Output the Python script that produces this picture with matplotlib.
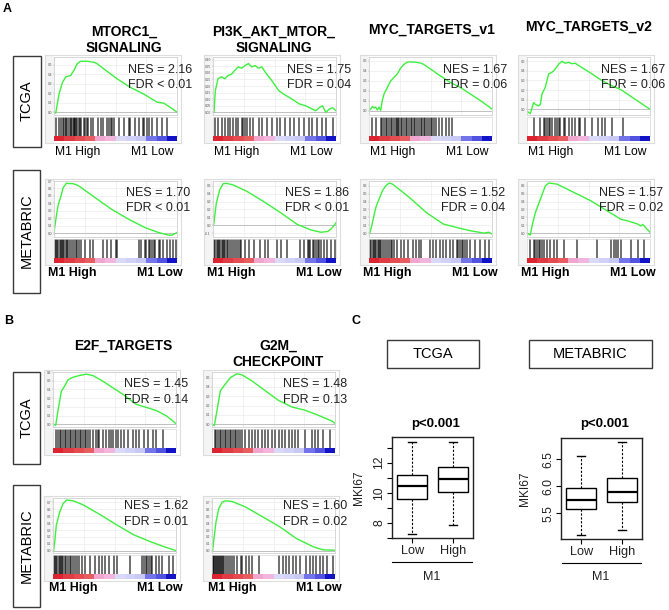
import matplotlib
matplotlib.use('Agg')
import matplotlib.pyplot as plt
from matplotlib.patches import Rectangle
from matplotlib.lines import Line2D

plt.rcParams['font.family'] = ['Liberation Sans', 'DejaVu Sans']

W, H = 669, 610

# ---------------- Panel A, TCGA row ----------------
MTORC1_TCGA_X = [0, 1.4, 4.1, 6.8, 9.5, 13.5, 16.2, 18.9, 21.6, 27, 32.4, 35, 40.5, 51.4, 62.2, 73, 83.8, 89.2, 94.6, 100]
MTORC1_TCGA_ES = [0, -0.01, 0.19, 0.31, 0.37, 0.385, 0.44, 0.51, 0.535, 0.535, 0.525, 0.51, 0.455, 0.35, 0.26, 0.19, 0.105, 0.095, 0.05, 0.0]
MTORC1_TCGA_HITS = [2, 4, 5.5, 7, 8, 9.5, 10, 11.5, 13, 14, 15, 16, 16.5, 17, 18, 19, 20, 21, 22, 24, 25, 27, 28, 30, 32,
                    36, 38, 40, 43, 45, 46, 47, 49, 53, 57, 61, 62, 66, 69, 72, 73, 76, 77, 80, 84, 88, 92]

PI3K_TCGA_X = [0.8, 1.9, 4.1, 6.8, 9.6, 12.3, 15.1, 17.8, 20.5, 23.3, 26, 28.8, 31.5, 34.2, 37, 39.7, 42.5, 47.9, 53.4,
               58.9, 64.4, 69.9, 75.3, 80.8, 83.6, 86.3, 89, 91.8, 94.5, 97.3, 100]
PI3K_TCGA_ES = [0, 0.165, 0.255, 0.27, 0.255, 0.28, 0.29, 0.32, 0.345, 0.335, 0.355, 0.37, 0.345, 0.355, 0.335, 0.345,
                0.305, 0.24, 0.165, 0.13, 0.10, 0.065, 0.05, 0.025, 0.012, 0.035, 0.05, 0.0, 0.025, 0.035, 0.012]
PI3K_TCGA_HITS = [1.4, 4, 7, 9.6, 11.8, 13.7, 16.4, 19, 20.5, 23.3, 24.7, 26, 27.4, 30, 32.9, 37, 39.7, 43.8, 47.9, 52,
                  54.8, 58.9, 63, 65.8, 69.9, 74, 78, 80.8, 84.9, 89, 91.8, 97.3]

MYC1_TCGA_X = [0, 1.4, 2.7, 4.1, 5.4, 6.8, 8.1, 9.5, 10.8, 12.2, 14.9, 17.6, 20.3, 23, 25.7, 28.4, 31.1, 36.5, 41.9,
               44.6, 50, 58.1, 66.2, 74.3, 82.4, 90.5, 100]
MYC1_TCGA_ES = [0.005, 0.02, 0.045, 0.03, 0.04, 0.01, 0.04, 0.005, 0.105, 0.17, 0.235, 0.30, 0.335, 0.37, 0.43, 0.465,
                0.49, 0.49, 0.48, 0.465, 0.42, 0.35, 0.285, 0.235, 0.17, 0.105, 0.02]
MYC1_TCGA_HITS = [2.7, 5.4, 9.5, 10.8, 12.2, 13.5, 14.9, 16.2, 17.6, 18.9, 20.3, 21.6, 23, 23.8, 24.6, 25.7, 27, 28.4,
                  29.7, 31.1, 32.4, 33.8, 35.1, 36.5, 37.8, 39.2, 40.5, 41.9, 43.2, 44.6, 45.9, 47.3, 48.6, 50, 51.4,
                  52.7, 54.1, 56.8, 59.5, 62.2, 64.9, 67.6]

MYC2_TCGA_X = [0, 2.7, 5.4, 6.8, 9.5, 10.8, 12.2, 14.9, 17.6, 20.3, 23, 25.7, 28.4, 31.1, 33.8, 36.5, 39.2, 44.6, 52.7,
               60.8, 68.9, 77, 79.7, 87.8, 95.9, 100]
MYC2_TCGA_ES = [-0.02, -0.045, 0.07, 0.05, 0.035, 0.05, 0.16, 0.23, 0.37, 0.385, 0.42, 0.47, 0.50, 0.48, 0.49, 0.475,
                0.48, 0.435, 0.37, 0.30, 0.245, 0.20, 0.175, 0.105, 0.035, 0.0]
MYC2_TCGA_HITS = [5.4, 10.8, 13.5, 14.9, 16.2, 17.6, 18.9, 20.3, 23, 24.3, 25.7, 27, 29.7, 31.1, 33.8, 36.5, 39.2, 41.9,
                  43.2, 47.3, 52.7, 58.1, 60.8, 63.5, 68.9, 78.4]

# ---------------- Panel A, METABRIC row ----------------
MTORC1_MB_X = [0, 1.9, 3.3, 6, 7.4, 10.1, 12.8, 15.5, 19.6, 33.2, 46.9, 60.5, 74.1, 85, 93.2, 95.9, 100]
MTORC1_MB_ES = [0.01, 0.23, 0.37, 0.52, 0.61, 0.67, 0.665, 0.665, 0.64, 0.48, 0.32, 0.19, 0.075, 0.01, -0.025, -0.025, 0.01]
MTORC1_MB_HITS = [0.5, 1.5, 2.5, 3.5, 4.5, 5.5, 6.5, 7.5, 8.5, 9.5, 10.5, 11.5, 13, 14.5, 16, 17.5, 19, 20.5, 22, 25, 29,
                  32, 40, 43, 46, 50, 51, 69, 71, 74, 75, 77, 78, 80, 81, 82, 85, 86, 89, 92, 94, 97, 99]

PI3K_MB_X = [0.5, 2.7, 5.5, 8.2, 11, 16.4, 27.4, 41.1, 54.8, 68.5, 79.5, 87.7, 93.2, 95.9, 98.6, 100]
PI3K_MB_ES = [0, 0.28, 0.45, 0.525, 0.53, 0.51, 0.43, 0.30, 0.16, 0.01, -0.06, -0.09, -0.08, -0.05, 0.0, 0.03]
PI3K_MB_HITS = [1, 2, 3, 4, 5, 6, 7, 8, 9, 10, 11, 12.5, 14, 15.5, 17, 18.5, 20, 22, 23, 26, 29, 33, 38, 42, 45, 52, 55,
                60, 71, 74, 77, 78, 79, 81, 82, 84, 85, 86, 88, 90, 93, 96, 99]

MYC1_MB_X = [0.5, 2.2, 3.3, 5.5, 6.8, 8.2, 11, 13.7, 16.4, 19.2, 32.9, 46.6, 60.3, 74, 82.2, 87.7, 93.2, 97.3, 100]
MYC1_MB_ES = [-0.01, 0.09, 0.17, 0.32, 0.38, 0.43, 0.54, 0.60, 0.635, 0.62, 0.45, 0.26, 0.115, 0.06, 0.03, 0.015, 0.0,
              0.01, -0.01]
MYC1_MB_HITS = [1, 2, 3, 4, 5, 6, 7, 8, 9, 10, 11.5, 13, 14.5, 16, 17.5, 19, 20.5, 23, 26, 28.8, 31.5, 35.6, 38.4, 41,
                42.5, 49.3, 52, 54.8, 57.5, 60.3, 63, 65.8, 68.5, 71.2, 72.6, 74, 75.3, 76.7, 78, 79.5, 82.2, 86.3,
                90.4, 94.5, 97.3]

MYC2_MB_X = [0, 2.7, 4.1, 6.8, 9.5, 12.3, 15, 17.7, 24.5, 38.1, 51.8, 65.4, 76.3, 81.7, 89.9, 92.6, 94, 100]
MYC2_MB_ES = [0, -0.025, 0.09, 0.26, 0.37, 0.49, 0.60, 0.635, 0.62, 0.515, 0.41, 0.28, 0.175, 0.155, 0.115, 0.09, 0.11,
              0.01]
MYC2_MB_HITS = [2.7, 5.4, 6.8, 8.2, 9.5, 10.9, 12.3, 13.6, 16.3, 19.1, 21.8, 24.5, 30, 40.9, 57.2, 68.1, 70.8, 72.2,
                73.6, 76.3, 84.5, 89.9, 95.4]

# ---------------- Panel B ----------------
E2F_TCGA_X = [0.5, 2.2, 4.1, 6.8, 9.5, 12.2, 16.2, 21.6, 27, 32.4, 40.5, 48.6, 56.8, 67.6, 75.7, 83.8, 91.9, 100]
E2F_TCGA_ES = [0, -0.01, 0.16, 0.38, 0.44, 0.51, 0.54, 0.56, 0.575, 0.56, 0.495, 0.42, 0.345, 0.23, 0.195, 0.16, 0.10,
               0.01]
E2F_TCGA_HITS = [2.7, 4.1, 5.4, 6.8, 8.1, 9.5, 10.8, 12.2, 13.5, 14.9, 16.2, 17.6, 18.9, 20.3, 21.6, 23, 24.3, 25.7, 27,
                 28.4, 29.7, 32.4, 35.1, 36.5, 37.8, 40.5, 43.2, 45.9, 47.3, 48.6, 51.4, 52.7, 55.4, 58.1, 60.8, 64.9,
                 67.6, 70.3, 74.3, 77, 81.1, 83.8, 89.2]

G2M_TCGA_X = [0, 1.9, 4.1, 6.8, 10.8, 14.9, 20.3, 24.3, 32.4, 43.2, 54.1, 64.9, 75.7, 86.5, 94.6, 97.3, 100]
G2M_TCGA_ES = [0, -0.015, 0.15, 0.36, 0.43, 0.50, 0.54, 0.53, 0.465, 0.36, 0.255, 0.185, 0.15, 0.095, 0.05, 0.035, 0.01]
G2M_TCGA_HITS = [2.2, 3.5, 4.9, 6.2, 7.6, 8.9, 10.3, 11.6, 13, 14.3, 15.7, 17, 18.4, 19.7, 21.1, 23, 24.3, 27, 29.7,
                 32.4, 35.1, 37.8, 40.5, 43.2, 45.9, 48.6, 51.4, 54.1, 56.8, 59.5, 62.2, 64.9, 67.6, 70.3, 75.7, 81.1,
                 83.8, 86.5, 90.5, 95.9]

E2F_MB_X = [0.5, 1.4, 2.7, 5.5, 8.2, 11, 16.4, 24.7, 38.4, 52.1, 65.8, 79.5, 90.4, 100]
E2F_MB_ES = [0.0, 0.13, 0.37, 0.56, 0.68, 0.73, 0.72, 0.66, 0.52, 0.37, 0.23, 0.13, 0.06, 0.005]
E2F_MB_HITS = [0.5, 1.5, 2.5, 3.5, 4.5, 5.5, 6.5, 7.5, 8.5, 9.5, 10.5, 12, 13.5, 15, 16.5, 18, 19.5, 21, 23.3, 26, 30.1,
               34.2, 37, 39.7, 42.5, 45.2, 49.3, 52.1, 63, 72.6, 74, 75.3, 76.7, 78.1, 79.5, 80.8, 83.6, 86.3, 89,
               94.5, 97.3]

G2M_MB_X = [0.5, 1.6, 3.3, 5.5, 8.2, 11, 16.4, 27.4, 41.1, 54.8, 68.5, 82.2, 90.4, 100]
G2M_MB_ES = [0, 0.18, 0.42, 0.61, 0.70, 0.72, 0.71, 0.63, 0.49, 0.35, 0.18, 0.06, 0.015, 0.01]
G2M_MB_HITS = [0.5, 1.2, 2, 2.7, 3.4, 4.1, 4.8, 5.5, 6.2, 7, 8, 9, 10, 11.5, 13, 14.5, 16, 17.8, 20.5, 23.3, 24.7, 27.4,
               30.1, 32.9, 38.4, 54.8, 57.5, 60.3, 63, 65.8, 68.5, 71.2, 76.7, 79.5, 82.2, 84.9, 87.7, 90.4, 93.2, 98.6]

NES_A_TCGA = ['2.16', '1.75', '1.67', '1.67']
FDR_A_TCGA = ['< 0.01', '= 0.04', '= 0.06', '= 0.06']
NES_A_MB = ['1.70', '1.86', '1.52', '1.57']
FDR_A_MB = ['< 0.01', '< 0.01', '= 0.04', '= 0.02']
NES_B_TCGA = ['1.45', '1.48']
FDR_B_TCGA = ['= 0.14', '= 0.13']
NES_B_MB = ['1.62', '1.60']
FDR_B_MB = ['= 0.01', '= 0.02']

TITLES_A = ['MTORC1_\nSIGNALING', 'PI3K_AKT_MTOR_\nSIGNALING', 'MYC_TARGETS_v1', 'MYC_TARGETS_v2']
TITLES_B = ['E2F_TARGETS', 'G2M_\nCHECKPOINT']

TICKS_05 = [0.0, 0.1, 0.2, 0.3, 0.4, 0.5]
TICKS_06 = [0.0, 0.1, 0.2, 0.3, 0.4, 0.5, 0.6]
TICKS_07 = [0.0, 0.1, 0.2, 0.3, 0.4, 0.5, 0.6, 0.7]
TICKS_PI3K_TCGA = [0.0, 0.05, 0.10, 0.15, 0.20, 0.25, 0.30, 0.35, 0.40]
TICKS_PI3K_MB = [-0.1, 0.0, 0.1, 0.2, 0.3, 0.4, 0.5]

# ranked-list colour bar
RANK_COLORS = ['#dc2430', '#e03a42', '#e54c52', '#e85e60', '#f0a6cf', '#f2b6de',
               '#dadaf8', '#d2d2f8', '#c8c8f4', '#7474ea', '#5252e0', '#1212c6']

# ---------------- Panel C (MKI67 box stats: whislo, q1, med, q3, whishi) ----------------
GROUPS = ['Low', 'High']
TCGA_LOW = [7.27, 9.58, 10.42, 11.2, 13.35]
TCGA_HIGH = [7.87, 10.05, 10.93, 11.71, 13.35]
MB_LOW = [5.09, 5.58, 5.745, 5.96, 6.56]
MB_HIGH = [5.19, 5.71, 5.90, 6.16, 6.83]

fig = plt.figure(figsize=(W / 100, H / 100), dpi=100)


def box(x, y, w, h):
    return [x / W, 1 - (y + h) / H, w / W, h / H]


def ftext(x, y, s, **kw):
    fig.text(x / W, 1 - y / H, s, **kw)


def frame(x, y, w, h, ec='#3a3a3a', lw=1.0):
    fig.add_artist(Rectangle((x / W, 1 - (y + h) / H), w / W, h / H, transform=fig.transFigure,
                             fill=False, ec=ec, lw=lw))


def hline(x1, x2, y, lw=0.8):
    fig.add_artist(Line2D([x1 / W, x2 / W], [1 - y / H] * 2, transform=fig.transFigure, color='k', lw=lw))


def gsea(x0, y0, w, h_enr, xs, es, hits, ylim, ticks, fmt, nes, fdr, txt_dy=(12, 27), txt_dx=14):
    h_bar, h_cb = 19, 5
    # light outer frame of the GSEA image
    fa = fig.add_axes(box(x0 - 9, y0 - 2, w + 13, h_enr + h_bar + h_cb + 6))
    fa.set_xticks([])
    fa.set_yticks([])
    for s in fa.spines.values():
        s.set_color('#dddddd')
        s.set_linewidth(0.8)
    fa.axvspan(0, 9 / (w + 13), color='#f4f4f4', lw=0)
    fa.set_xlim(0, 1)

    ax = fig.add_axes(box(x0, y0, w, h_enr))
    ax.grid(color='#ececec', lw=0.5)
    ax.axhline(0, color='#b8b8b8', lw=0.6)
    ax.plot(xs, es, color='#3df03d', lw=1.0)
    ax.set_xlim(0, 100)
    ax.set_ylim(*ylim)
    ax.set_xticks([25, 50, 75])
    ax.tick_params(axis='x', length=0, labelbottom=False)
    ax.set_yticks(ticks)
    ax.set_yticklabels([fmt % t for t in ticks], fontsize=2.3, color='#555555')
    ax.tick_params(axis='y', length=1, width=0.3, pad=0.5, color='#999999')
    for s in ax.spines.values():
        s.set_color('#d0d0d0')
        s.set_linewidth(0.6)

    ab = fig.add_axes(box(x0, y0 + h_enr + 2, w, h_bar))
    ab.vlines(hits, 0, 1, color='k', lw=1.1, alpha=0.72)
    ab.set_xlim(0, 100)
    ab.set_ylim(0, 1)
    ab.set_xticks([])
    ab.set_yticks([])
    for s in ab.spines.values():
        s.set_color('#d8d8d8')
        s.set_linewidth(0.5)

    ac = fig.add_axes(box(x0, y0 + h_enr + 2 + h_bar, w, h_cb))
    n = len(RANK_COLORS)
    ac.barh(0, [1] * n, left=list(range(n)), color=RANK_COLORS, height=1, lw=0)
    ac.set_xlim(0, n)
    ac.set_ylim(-0.5, 0.5)
    ac.axis('off')

    ftext(x0 + w + txt_dx, y0 + txt_dy[0], 'NES = ' + nes, ha='right', va='center', fontsize=9, color='#222222')
    ftext(x0 + w + txt_dx, y0 + txt_dy[1], 'FDR ' + fdr, ha='right', va='center', fontsize=9, color='#222222')


# ---------- Panel A ----------
ftext(3, 9, 'A', fontsize=9, fontweight='bold', va='center')
A_X0 = [54, 213, 369, 527]
A_W = 123
title_pos = [(124, 40), (274, 40), (432, 30), (588, 27)]
for t, (tx, ty) in zip(TITLES_A, title_pos):
    ftext(tx, ty, t, ha='center', va='center', fontsize=10, fontweight='bold', linespacing=1.15)

tcga_a = [(MTORC1_TCGA_X, MTORC1_TCGA_ES, MTORC1_TCGA_HITS, (-0.03, 0.58), TICKS_05, '%.1f'),
          (PI3K_TCGA_X, PI3K_TCGA_ES, PI3K_TCGA_HITS, (-0.02, 0.42), TICKS_PI3K_TCGA, '%.2f'),
          (MYC1_TCGA_X, MYC1_TCGA_ES, MYC1_TCGA_HITS, (-0.04, 0.54), TICKS_05, '%.1f'),
          (MYC2_TCGA_X, MYC2_TCGA_ES, MYC2_TCGA_HITS, (-0.06, 0.545), TICKS_05, '%.1f')]
for i, (xs, es, hits, yl, tk, fmt) in enumerate(tcga_a):
    gsea(A_X0[i], 57, A_W, 58, xs, es, hits, yl, tk, fmt, NES_A_TCGA[i], FDR_A_TCGA[i], txt_dy=(13, 28), txt_dx=15)
    ftext(A_X0[i] + 1, 152, 'M1 High', ha='left', va='center', fontsize=8.7)
    ftext(A_X0[i] + A_W - 3, 152, 'M1 Low', ha='right', va='center', fontsize=8.7)

mb_a = [(MTORC1_MB_X, MTORC1_MB_ES, MTORC1_MB_HITS, (-0.05, 0.70), TICKS_07, '%.1f'),
        (PI3K_MB_X, PI3K_MB_ES, PI3K_MB_HITS, (-0.15, 0.56), TICKS_PI3K_MB, '%.1f'),
        (MYC1_MB_X, MYC1_MB_ES, MYC1_MB_HITS, (-0.05, 0.66), TICKS_06, '%.1f'),
        (MYC2_MB_X, MYC2_MB_ES, MYC2_MB_HITS, (-0.05, 0.66), TICKS_06, '%.1f')]
for i, (xs, es, hits, yl, tk, fmt) in enumerate(mb_a):
    gsea(A_X0[i], 181, A_W, 56, xs, es, hits, yl, tk, fmt, NES_A_MB[i], FDR_A_MB[i], txt_dy=(12, 27), txt_dx=13)
    ftext(A_X0[i] - 6, 273, 'M1 High', ha='left', va='center', fontsize=8.9, fontweight='bold')
    ftext(A_X0[i] + A_W + 6, 273, 'M1 Low', ha='right', va='center', fontsize=8.9, fontweight='bold')

frame(13, 56, 28, 91)
ftext(27, 101, 'TCGA', rotation=90, ha='center', va='center', fontsize=10.5)
frame(13, 170, 27, 123)
ftext(26.5, 231, 'METABRIC', rotation=90, ha='center', va='center', fontsize=10.5)

# ---------- Panel B ----------
ftext(4, 321, 'B', fontsize=9, fontweight='bold', va='center')
B_X0 = [53, 212]
B_W = 123
ftext(123, 346, TITLES_B[0], ha='center', va='center', fontsize=10, fontweight='bold')
ftext(278, 354, TITLES_B[1], ha='center', va='center', fontsize=10, fontweight='bold', linespacing=1.15)

tcga_b = [(E2F_TCGA_X, E2F_TCGA_ES, E2F_TCGA_HITS, (-0.03, 0.60), TICKS_06, '%.1f'),
          (G2M_TCGA_X, G2M_TCGA_ES, G2M_TCGA_HITS, (-0.03, 0.56), TICKS_05, '%.1f')]
for i, (xs, es, hits, yl, tk, fmt) in enumerate(tcga_b):
    gsea(B_X0[i], 372, B_W, 55, xs, es, hits, yl, tk, fmt, NES_B_TCGA[i], FDR_B_TCGA[i], txt_dy=(12, 28), txt_dx=12)

mb_b = [(E2F_MB_X, E2F_MB_ES, E2F_MB_HITS, (-0.03, 0.76), TICKS_07, '%.1f'),
        (G2M_MB_X, G2M_MB_ES, G2M_MB_HITS, (-0.03, 0.76), TICKS_07, '%.1f')]
for i, (xs, es, hits, yl, tk, fmt) in enumerate(mb_b):
    gsea(B_X0[i], 498, B_W, 55, xs, es, hits, yl, tk, fmt, NES_B_MB[i], FDR_B_MB[i], txt_dy=(8, 24), txt_dx=12)
    ftext(B_X0[i] - 4, 588, 'M1 High', ha='left', va='center', fontsize=8.9, fontweight='bold')
    ftext(B_X0[i] + B_W + 7, 588, 'M1 Low', ha='right', va='center', fontsize=8.9, fontweight='bold')

frame(13, 372, 27, 92)
ftext(26.5, 418, 'TCGA', rotation=90, ha='center', va='center', fontsize=10.5)
frame(13, 485, 27, 122)
ftext(26.5, 546, 'METABRIC', rotation=90, ha='center', va='center', fontsize=10.5)

# ---------- Panel C ----------
ftext(352, 321, 'C', fontsize=9, fontweight='bold', va='center')
frame(387, 340, 92, 28)
ftext(433, 354, 'TCGA', ha='center', va='center', fontsize=10.5)
frame(529, 340, 123, 28)
ftext(590.5, 354, 'METABRIC', ha='center', va='center', fontsize=10.5)


def mki67_box(x0, y0, low, high, ylim, ticks, labels, ylab_x):
    ax = fig.add_axes(box(x0, y0, 81, 101))
    stats = []
    for name, v in zip(GROUPS, [low, high]):
        stats.append(dict(label=name, whislo=v[0], q1=v[1], med=v[2], q3=v[3], whishi=v[4]))
    ax.bxp(stats, positions=[1, 2], widths=0.74, showfliers=False, patch_artist=True, capwidths=0.2,
           boxprops=dict(facecolor='white', edgecolor='k', lw=1.0),
           medianprops=dict(color='k', lw=1.6),
           whiskerprops=dict(color='k', lw=0.8, linestyle=(0, (2, 1.5))),
           capprops=dict(color='k', lw=1.0))
    ax.set_xlim(0.5, 2.5)
    ax.set_ylim(*ylim)
    ax.set_yticks(ticks)
    ax.set_yticklabels(labels, rotation=90, va='center', fontsize=8.8, color='#222222')
    ax.set_xticks([1, 2])
    ax.set_xticklabels(GROUPS, fontsize=9.2, color='#222222')
    ax.tick_params(axis='y', length=3.5, width=0.8, pad=1.5)
    ax.tick_params(axis='x', length=3.5, width=0.8, pad=1.5)
    for s in ax.spines.values():
        s.set_linewidth(1.0)
        s.set_color('#222222')
    ax.set_ylabel('MKI67', fontsize=8.6, color='#222222')
    ax.yaxis.set_label_coords(ylab_x, 0.5)
    return ax


mki67_box(392, 437, TCGA_LOW, TCGA_HIGH, (7.0, 13.7), [7, 8, 9, 10, 11, 12, 13],
          ['', '8', '', '10', '', '12', ''], -0.33)
ftext(436, 424, 'p<0.001', ha='center', va='center', fontsize=9.5, fontweight='bold')
hline(392, 472, 562)
ftext(432, 577, 'M1', ha='center', va='center', fontsize=9, color='#222222')

mki67_box(561, 438, MB_LOW, MB_HIGH, (5.02, 6.895), [5.5, 6.0, 6.5], ['5.5', '6.0', '6.5'], -0.37)
ftext(605, 424, 'p<0.001', ha='center', va='center', fontsize=9.5, fontweight='bold')
hline(562, 641, 563)
ftext(601, 577, 'M1', ha='center', va='center', fontsize=9, color='#222222')

fig.savefig('out.png', dpi=100)
